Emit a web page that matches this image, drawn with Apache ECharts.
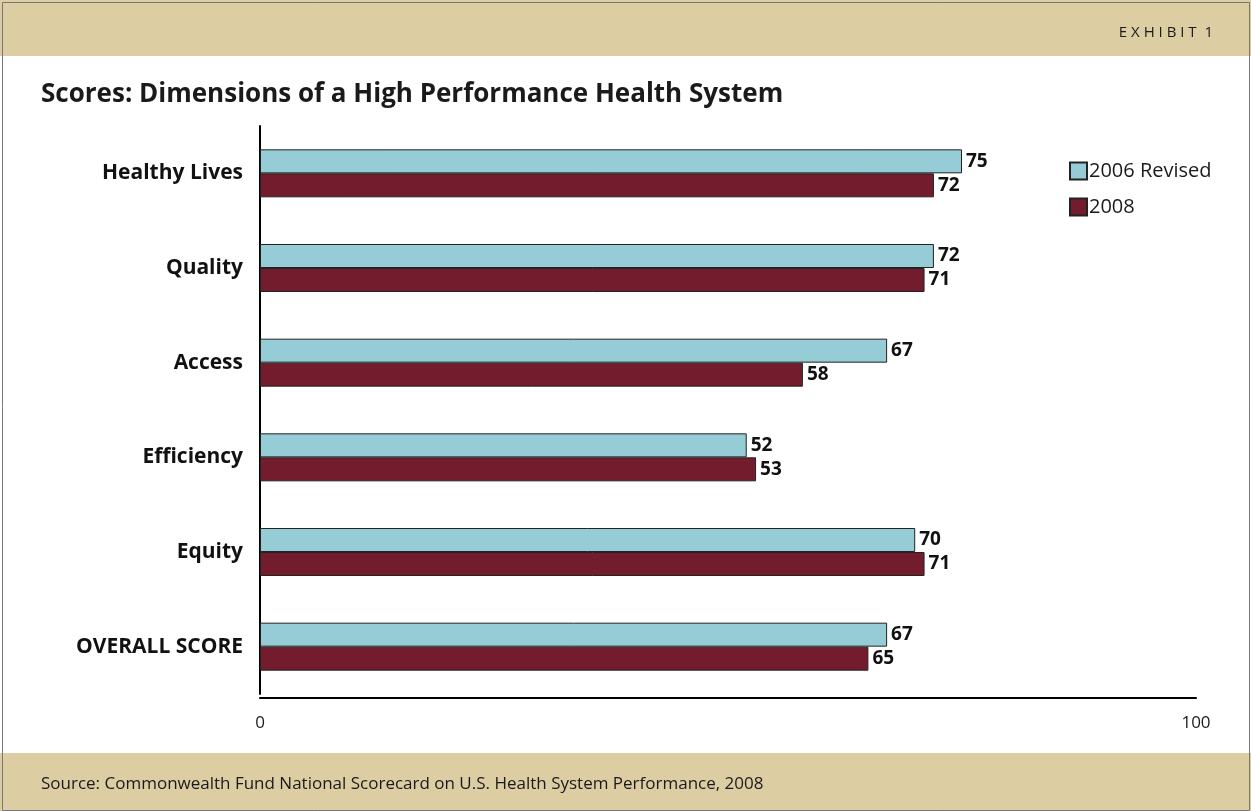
<!DOCTYPE html>
<html>
<head>
<meta charset="utf-8">
<script src="https://cdn.jsdelivr.net/npm/echarts@6/dist/echarts.min.js"></script>
<style>
  html, body { margin: 0; padding: 0; background: #fff; }
  #chart { width: 1251px; height: 811px; }
</style>
</head>
<body>
<div id="chart"></div>
<script>
// data
const categories = ['Healthy Lives', 'Quality', 'Access', 'Efficiency', 'Equity', 'OVERALL SCORE']
const revised2006 = [75, 72, 67, 52, 70, 67]
const scores2008 = [72, 71, 58, 53, 71, 65]
const seriesNames = ['2006 Revised', '2008']
const tickLabels = [0, 100]

const font = '"Open Sans", Lato, sans-serif'
const band = '#dccda3'

const myChart = echarts.init(document.getElementById('chart'))

const option = {
  backgroundColor: '#fff',
  textStyle: { fontFamily: font, color: '#1a1a1a' },
  graphic: [
    // header and footer bands
    { type: 'rect', left: 0, top: 0, shape: { width: 1251, height: 56 }, style: { fill: band }, silent: true, z: -1 },
    { type: 'rect', left: 0, top: 753, shape: { width: 1251, height: 58 }, style: { fill: band }, silent: true, z: -1 },
    // thin frame
    { type: 'rect', left: 0, top: 0, shape: { x: 1.5, y: 1.5, width: 1247, height: 808 }, style: { fill: 'none', stroke: '#777', lineWidth: 1 }, silent: true },
    {
      type: 'text', right: 38, top: 25,
      style: { text: 'E X H I B I T  1', font: '15px ' + font, fill: '#1a1a1a' }
    },
    {
      type: 'text', left: 41, top: 776,
      style: { text: 'Source: Commonwealth Fund National Scorecard on U.S. Health System Performance, 2008', font: '17px ' + font, fill: '#1a1a1a' }
    }
  ],
  title: {
    text: 'Scores: Dimensions of a High Performance Health System',
    left: 36,
    top: 77,
    textStyle: { fontFamily: font, fontSize: 26, fontWeight: 'bold', color: '#1a1a1a' }
  },
  legend: {
    orient: 'vertical',
    left: 1064,
    top: 156,
    itemWidth: 17,
    itemHeight: 17,
    itemGap: 16,
    icon: 'rect',
    textStyle: { fontFamily: font, fontSize: 20, color: '#1a1a1a', padding: [0, 0, 0, -3] },
    data: seriesNames
  },
  grid: { left: 260, right: 55, top: 126, bottom: 117 },
  xAxis: {
    type: 'value',
    min: tickLabels[0],
    max: tickLabels[1],
    interval: 100,
    offset: 4,
    splitLine: { show: false },
    axisTick: { show: false },
    axisLine: { show: true, lineStyle: { color: '#000', width: 2 } },
    axisLabel: { fontFamily: font, fontSize: 17, color: '#1a1a1a', margin: 17 }
  },
  yAxis: {
    type: 'category',
    data: categories,
    inverse: true,
    axisTick: { show: false },
    axisLine: { lineStyle: { color: '#000', width: 2 } },
    axisLabel: {
      fontFamily: font,
      fontSize: 21,
      fontWeight: 'bold',
      color: '#111',
      margin: 17
    }
  },
  series: [
    {
      name: seriesNames[0],
      type: 'bar',
      data: revised2006,
      barWidth: 24,
      barGap: '0%',
      itemStyle: { color: '#96ccd5', borderColor: '#222', borderWidth: 1 },
      label: { show: true, position: 'right', distance: 4, fontFamily: font, fontSize: 19, fontWeight: 'bold', color: '#111' }
    },
    {
      name: seriesNames[1],
      type: 'bar',
      data: scores2008,
      barWidth: 24,
      itemStyle: { color: '#731c2e', borderColor: '#222', borderWidth: 1 },
      label: { show: true, position: 'right', distance: 4, fontFamily: font, fontSize: 19, fontWeight: 'bold', color: '#111' }
    }
  ]
}

myChart.setOption(option)
</script>
</body>
</html>
